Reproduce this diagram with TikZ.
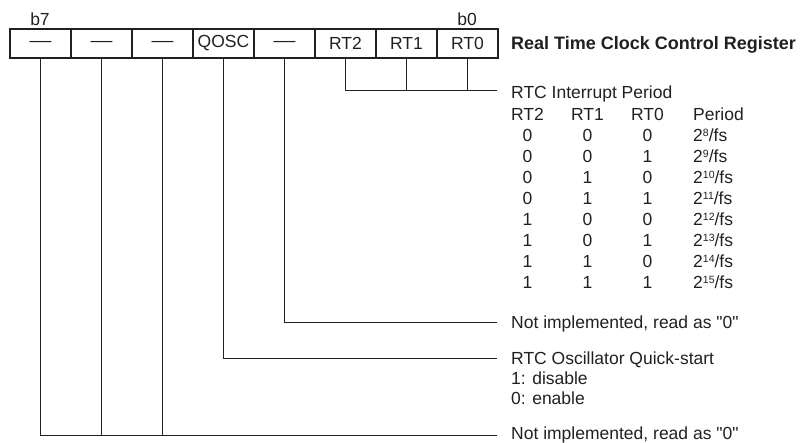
\documentclass[tikz,border=0pt]{standalone}
\usepackage{fontspec}
\setmainfont{Liberation Sans}
\newfontfamily\qfont{Liberation Sans}[Ligatures=TeXOff]
\definecolor{ink}{HTML}{231F20}
\newcommand\supnum[1]{\raisebox{5pt}{\fontsize{10.5}{10}\selectfont #1}}
\newcommand\regdash{\scalebox{1.25}[1]{---}}
\newcommand\qt{{\qfont"}}
\begin{document}
\begin{tikzpicture}[x=1pt,y=-1pt,
  cell/.style={draw=ink, line width=1.1pt, minimum width=61pt, minimum height=29pt,
    inner sep=0pt, font=\fontsize{17.5}{20}\selectfont, text=ink},
  txt/.style={inner sep=0pt, font=\fontsize{17.5}{20}\selectfont, text=ink},
  lbl/.style={txt, anchor=base west},
  col/.style={txt, anchor=base},
  wire/.style={draw=ink, line width=0.9pt}]
\useasboundingbox (0,0) rectangle (800,443);
% register cells
\foreach \t [count=\i from 0] in {\regdash,\regdash,\regdash,QOSC,\regdash,RT2,RT1,RT0}
  \node[cell] (c\i) at (40.5+61*\i,43.5) {\t};
\node[col] (b7) at (40,25.5) {b7};
\node[col] (b0) at (467,25.5) {b0};
\node[lbl, font=\bfseries\fontsize{18}{20}\selectfont] (title) at (511,50) {Real Time Clock Control Register};
% wire end points
\coordinate (e1) at (497,90);
\coordinate (e2) at (497,322);
\coordinate (e3) at (497,358);
\coordinate (e4) at (497,435.5);
% RT bits
\draw[wire] (c5.south) |- (e1);
\draw[wire] (c6.south) -- (c6.south |- e1);
\draw[wire] (c7.south) -- (c7.south |- e1);
% bit 3
\draw[wire] (c4.south) |- (e2);
% QOSC
\draw[wire] (c3.south) |- (e3);
% bits 7..5
\draw[wire] (c0.south) |- (e4);
\draw[wire] (c1.south) -- (c1.south |- e4);
\draw[wire] (c2.south) -- (c2.south |- e4);
% texts
\node[lbl] (rtc) at (511,98.5) {RTC Interrupt Period};
\node[col] (h2) at (527.5,120.5) {RT2};
\node[col] (h1) at (587.5,120.5) {RT1};
\node[col] (h0) at (647.5,120.5) {RT0};
\node[lbl] (hp) at (693,120.5) {Period};
\foreach \a/\b/\c/\e [count=\r] in {0/0/0/8,0/0/1/9,0/1/0/10,0/1/1/11,1/0/0/12,1/0/1/13,1/1/0/14,1/1/1/15}{
  \node[col] (r\r a) at (527.5,120.5+21*\r) {\a};
  \node[col] (r\r b) at (587.5,120.5+21*\r) {\b};
  \node[col] (r\r c) at (647.5,120.5+21*\r) {\c};
  \node[lbl] (r\r p) at (693,120.5+21*\r) {2\supnum{\e}/fs};
}
\node[lbl] (ni1) at (511,328.5) {Not implemented, read as \qt0\qt};
\node[lbl] (osc) at (511,364.5) {RTC Oscillator Quick-start};
\node[lbl] (dis) at (511,384.5) {1: disable};
\node[lbl] (ena) at (511,404) {0: enable};
\node[lbl] (ni2) at (511,439) {Not implemented, read as \qt0\qt};
\end{tikzpicture}
\end{document}
